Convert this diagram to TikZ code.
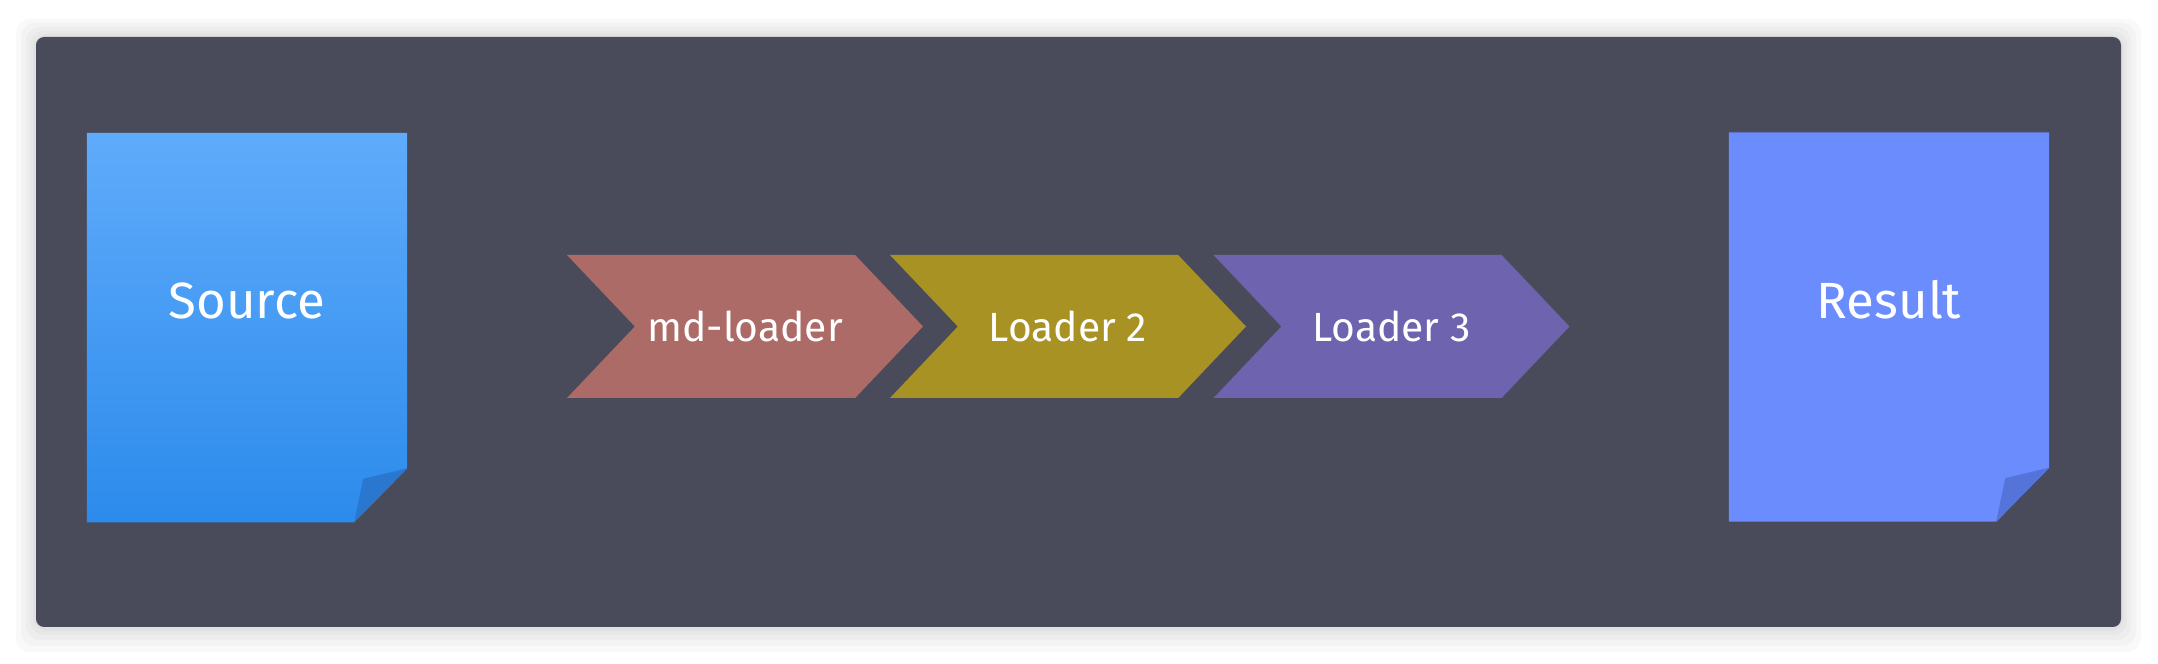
\documentclass[tikz,border=0pt]{standalone}
\usepackage{fontspec}
\setmainfont{Fira Sans}
\usetikzlibrary{shapes.symbols}
\definecolor{panelbg}{HTML}{494B5A}
\definecolor{srctop}{HTML}{5FABFB}
\definecolor{srcbot}{HTML}{2C8BEB}
\definecolor{srcfold}{HTML}{2A77CF}
\definecolor{resfill}{HTML}{6A8CFD}
\definecolor{resfold}{HTML}{5474DA}
\definecolor{ldred}{HTML}{AD6B68}
\definecolor{ldolive}{HTML}{A89224}
\definecolor{ldpurple}{HTML}{6D63AE}
\begin{document}
\begin{tikzpicture}[
  doc/.style={rectangle, minimum width=3.19cm, minimum height=3.88cm, inner sep=0},
  doclbl/.style={text=white, inner sep=0, font=\fontsize{14.5}{17}\selectfont},
  loader/.style={signal, signal from=west, signal to=east, signal pointer angle=93, minimum width=3.56cm, minimum height=1.43cm, inner sep=0, text=white, font=\fontsize{11.6}{14}\selectfont},
  halo/.style={black, opacity=0.025, rounded corners=4pt}
]
\useasboundingbox (0,0) rectangle (21.58,6.64);
\fill[white] (0,0) rectangle (21.58,6.64);
\fill[halo] (0.16,0.12) rectangle (21.41,6.45);
\fill[halo] (0.21,0.18) rectangle (21.36,6.41);
\fill[halo] (0.26,0.24) rectangle (21.31,6.37);
\fill[halo] (0.30,0.29) rectangle (21.27,6.33);
\fill[halo] (0.33,0.33) rectangle (21.24,6.30);
\fill[panelbg, rounded corners=2.3pt] (0.36,0.37) rectangle (21.21,6.27);

\node[doc] (src) at (2.47,3.364) {};
\shade[top color=srctop, bottom color=srcbot] (src.north west) -- (src.north east) -- ([yshift=0.54cm]src.south east) -- ([xshift=-0.53cm]src.south east) -- (src.south west) -- cycle;
\fill[srcfold] ([xshift=-0.53cm]src.south east) -- ([xshift=-0.44cm, yshift=0.435cm]src.south east) -- ([yshift=0.54cm]src.south east) -- cycle;
\node[doclbl] (srclbl) at ([yshift=0.27cm]src.center) {Source};

\node[loader, fill=ldred] (ld1) at (7.45,3.375) {md-loader};
\node[loader, fill=ldolive] (ld2) at (10.68,3.375) {Loader 2};
\node[loader, fill=ldpurple] (ld3) at (13.915,3.375) {Loader 3};

\node[doc] (res) at (18.89,3.37) {};
\fill[resfill] (res.north west) -- (res.north east) -- ([yshift=0.54cm]res.south east) -- ([xshift=-0.53cm]res.south east) -- (res.south west) -- cycle;
\fill[resfold] ([xshift=-0.53cm]res.south east) -- ([xshift=-0.44cm, yshift=0.435cm]res.south east) -- ([yshift=0.54cm]res.south east) -- cycle;
\node[doclbl] (reslbl) at ([yshift=0.27cm]res.center) {Result};
\end{tikzpicture}
\end{document}
